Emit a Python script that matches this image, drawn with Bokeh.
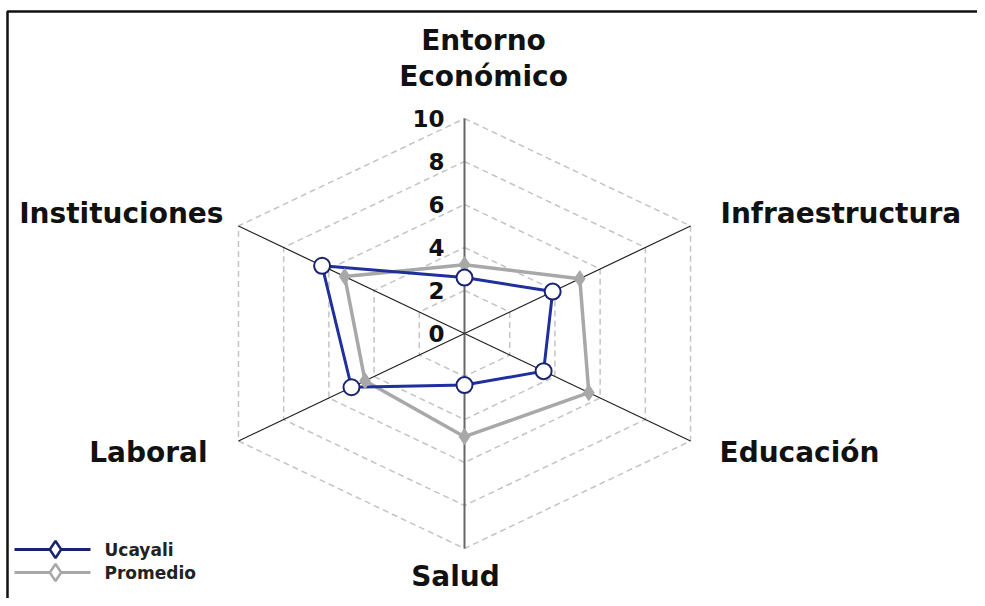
import numpy as np
from bokeh.plotting import figure
from bokeh.models import Range1d, ColumnDataSource
from bokeh.core.properties import value
from bokeh.embed import file_html
from bokeh.resources import INLINE

# ---- data ----
categories = ["Entorno\nEconómico", "Infraestructura", "Educación", "Salud", "Laboral", "Instituciones"]
ucayali = [2.6, 3.9, 3.5, 2.4, 5.0, 6.3]
promedio = [3.2, 5.1, 5.5, 4.8, 4.4, 5.3]
tick_values = [0, 2, 4, 6, 8, 10]
tick_labels = ["0", "2", "4", "6", "8", "10"]
series_names = ["Ucayali", "Promedio"]

FONT = "DejaVu Sans"
BLUE = "#1f2f9c"
NAVY = "#1a2370"
GREY = "#a8a8a8"

angles = np.deg2rad([90, 30, -30, -90, -150, 150])

def to_xy(vals):
    v = np.asarray(vals, dtype=float)
    return v * np.cos(angles), v * np.sin(angles)

W, H = 977, 598
cx, cy = 464, 333       # center in canvas px
sx, sy = 26.1, 21.5     # px per unit

def dx(px):  # canvas px -> data x
    return (px - cx) / sx

def dy(py):  # canvas px (from top) -> data y
    return (cy - py) / sy

p = figure(width=W, height=H, output_backend="svg", toolbar_location=None,
           x_range=Range1d(dx(0), dx(W)), y_range=Range1d(dy(H), dy(0)),
           min_border=0)
p.xaxis.visible = False
p.yaxis.visible = False
p.xgrid.visible = False
p.ygrid.visible = False
p.outline_line_color = None
p.background_fill_color = "white"
p.border_fill_color = "white"

# frame (left and top edges)
p.line([dx(7), dx(7), dx(W + 5)], [dy(H + 5), dy(11), dy(11)],
       line_color="#111111", line_width=2.5)

# grid hexagons
for t in tick_values[1:]:
    gx, gy = to_xy([t] * 6)
    p.line(list(gx) + [gx[0]], list(gy) + [gy[0]], line_color="#c4c4c4",
           line_width=1.5, line_dash="6 4")

# spokes
ex, ey = to_xy([10] * 6)
for i in range(6):
    if i in (0, 3):
        p.line([0, ex[i]], [0, ey[i]], line_color="#666666", line_width=2)
    else:
        p.line([0, ex[i]], [0, ey[i]], line_color="#222222", line_width=1.2)

# series
px_, py_ = to_xy(promedio)
p.line(list(px_) + [px_[0]], list(py_) + [py_[0]], line_color=GREY, line_width=3.5)
ux, uy = to_xy(ucayali)
p.line(list(ux) + [ux[0]], list(uy) + [uy[0]], line_color=BLUE, line_width=3)
p.scatter(px_, py_, marker="diamond", size=16, fill_color=GREY, line_color=GREY)
p.scatter(ux, uy, marker="circle", size=16, fill_color="white", line_color=NAVY, line_width=2)

# tick labels
p.text(x=[dx(444)] * len(tick_values), y=tick_values, text=tick_labels,
       text_align="right", text_baseline="middle", text_font=value(FONT),
       text_font_style="bold", text_font_size="23px", text_color="#111111")

# category labels
lab_x = [dx(483), dx(720), dx(719), dx(455), dx(207), dx(223)]
lab_y = [dy(93), dy(213), dy(452), dy(576), dy(452), dy(213)]
aligns = ["center", "left", "left", "center", "right", "right"]
baselines = ["bottom", "middle", "middle", "middle", "middle", "middle"]
src = ColumnDataSource(dict(x=lab_x, y=lab_y, t=categories, a=aligns, b=baselines))
p.text(x="x", y="y", text="t", text_align="a", text_baseline="b", source=src,
       text_font=value(FONT), text_font_style="bold", text_font_size="28px",
       text_color="#111111", text_line_height=1.12)

# legend (drawn manually)
leg_colors = [NAVY, GREY]
leg_rows = [549, 572]
for name, col, row in zip(series_names, leg_colors, leg_rows):
    p.line([dx(14), dx(90)], [dy(row), dy(row)], line_color=col, line_width=3)
    p.scatter([dx(55)], [dy(row)], marker="diamond", size=17, fill_color="white",
              line_color=col, line_width=2.5)
    p.text(x=[dx(104)], y=[dy(row)], text=[name], text_align="left",
           text_baseline="middle", text_font=value(FONT), text_font_style="bold",
           text_font_size="17px", text_color="#222222")

open("out.html", "w").write(file_html(p, INLINE))
